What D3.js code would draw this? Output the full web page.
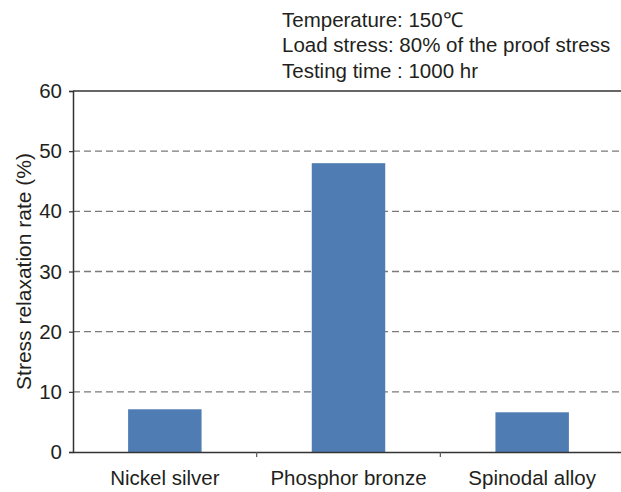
<!DOCTYPE html>
<html>
<head>
<meta charset="utf-8">
<script src="https://cdn.jsdelivr.net/npm/d3@7"></script>
<style>
  body { margin: 0; background: #fff; }
  text { font-family: "Liberation Sans", Arial, sans-serif; fill: #231f20; }
</style>
</head>
<body>
<div id="chart"></div>
<script>
// data
const categories = ["Nickel silver", "Phosphor bronze", "Spinodal alloy"]
const rates = [7.1, 48, 6.6]
const yTicks = [0, 10, 20, 30, 40, 50, 60]
const notes = ["Temperature: 150\u2103", "Load stress: 80% of the proof stress", "Testing time : 1000 hr"]

const width = 621, height = 492
const margin = ({top: 91, right: -3, bottom: 40, left: 73})
const fontSize = "20.5px"

const svg = d3.select("#chart").append("svg")
  .attr("width", width)
  .attr("height", height)

const x = d3.scaleBand()
  .domain(categories)
  .range([margin.left, width - margin.right])
  .paddingInner(0)
  .paddingOuter(0)

const y = d3.scaleLinear()
  .domain([0, 60])
  .range([height - margin.bottom, margin.top])

// dashed grid lines (not at 0 or 60)
svg.append("g")
  .selectAll("line")
  .data(yTicks.filter(d => d > 0 && d < 60))
  .join("line")
    .attr("x1", margin.left)
    .attr("x2", width)
    .attr("y1", d => y(d))
    .attr("y2", d => y(d))
    .attr("stroke", "#7a7a7a")
    .attr("stroke-width", 1.4)
    .attr("stroke-dasharray", "7,4")

// top frame line
svg.append("line")
  .attr("x1", margin.left)
  .attr("x2", width)
  .attr("y1", y(60))
  .attr("y2", y(60))
  .attr("stroke", "#333")
  .attr("stroke-width", 1.5)

// bars
const bw = x.bandwidth() * 0.4
svg.append("g")
  .selectAll("rect")
  .data(rates)
  .join("rect")
    .attr("x", (d, i) => x(categories[i]) + (x.bandwidth() - bw) / 2)
    .attr("y", d => y(d))
    .attr("width", bw)
    .attr("height", d => y(0) - y(d))
    .attr("fill", "#4f7cb3")

// y axis
const yAxis = svg.append("g")
  .attr("transform", `translate(${margin.left},0)`)
  .call(d3.axisLeft(y).tickValues(yTicks).tickSize(4).tickPadding(7))
yAxis.select(".domain").attr("stroke", "#333").attr("stroke-width", 1.5)
yAxis.selectAll(".tick line").attr("stroke", "#333").attr("stroke-width", 1.2)
yAxis.selectAll("text")
  .attr("font-size", fontSize)
  .attr("font-family", "Liberation Sans, Arial, sans-serif")
  .attr("fill", "#231f20")

// x axis - ticks sit on the band boundaries
const xAxis = svg.append("g")
  .attr("transform", `translate(0,${y(0)})`)
  .call(d3.axisBottom(x).tickSize(0).tickPadding(18))
xAxis.select(".domain").attr("stroke", "#333").attr("stroke-width", 1.5)
xAxis.selectAll("text")
  .attr("font-size", fontSize)
  .attr("font-family", "Liberation Sans, Arial, sans-serif")
  .attr("fill", "#231f20")

svg.append("g")
  .selectAll("line")
  .data(categories.slice(1))
  .join("line")
    .attr("x1", d => x(d))
    .attr("x2", d => x(d))
    .attr("y1", y(0))
    .attr("y2", y(0) + 5)
    .attr("stroke", "#555")
    .attr("stroke-width", 1.2)

// y axis title
svg.append("text")
  .attr("transform", `translate(31,${(y(0) + y(60)) / 2}) rotate(-90)`)
  .attr("text-anchor", "middle")
  .attr("font-size", "21px")
  .text("Stress relaxation rate (%)")

// test conditions
svg.append("g")
  .selectAll("text")
  .data(notes)
  .join("text")
    .attr("x", 282)
    .attr("y", (d, i) => 26.5 + i * 25.5)
    .attr("font-size", fontSize)
    .text(d => d)
</script>
</body>
</html>
